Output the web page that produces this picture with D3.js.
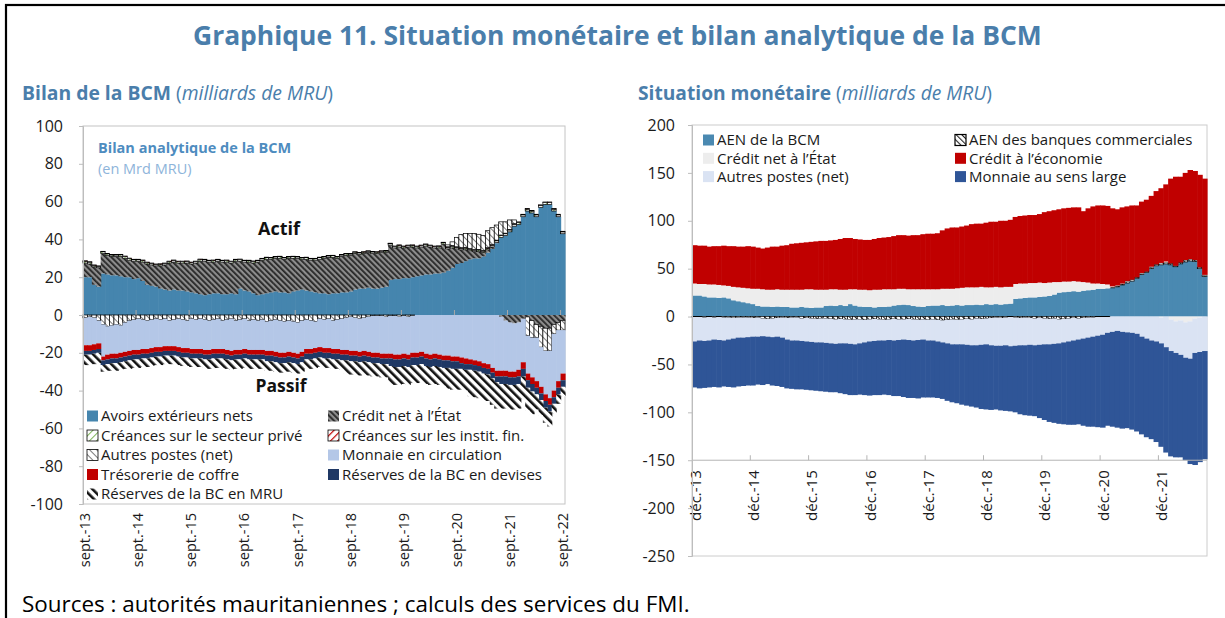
<!DOCTYPE html>
<html>
<head>
<meta charset="utf-8">
<script src="https://cdn.jsdelivr.net/npm/d3@7"></script>
<style>
  body { margin: 0; background: #fff; }
  svg text { font-family: "Open Sans", "Noto Sans", sans-serif; }
</style>
</head>
<body>
<svg id="chart" width="1225" height="618"></svg>
<script>
// ---- left chart: Bilan de la BCM, monthly sept.-13 .. sept.-22 (109 months)
const monthsL = d3.timeMonths(new Date(2013, 8, 1), new Date(2022, 9, 1));
const ticksL = ['sept.-13', 'sept.-14', 'sept.-15', 'sept.-16', 'sept.-17', 'sept.-18', 'sept.-19', 'sept.-20', 'sept.-21', 'sept.-22'];

const avoirsExt = [
  20, 20, 16, 15,
  22, 21.5, 21, 21, 20.5, 20, 20, 19, 19.5, 18, 16, 15.5,
  15, 14, 13.5, 13, 13.5, 13, 13, 12.5, 12, 11.5, 11, 10.5,
  11, 11.5, 11.5, 11, 11, 11.5, 11, 14, 13, 12.5, 11.5, 10.5,
  11, 11.5, 12, 12.5, 12, 12, 11.5, 12.5, 13, 13.5, 13, 12.5,
  12, 11.5, 11.5, 11, 11.5, 11.5, 12, 12, 12.5, 13.5, 14, 14,
  14.5, 14, 14, 14.5, 15, 18.5, 19, 19, 19.5, 19.5, 20, 20.5,
  21, 21.5, 21.5, 22, 22, 22.5, 23.5, 25, 27, 27.5, 28.5, 29.5,
  30, 30, 31, 33, 35, 38, 41, 42, 44, 47, 48, 52,
  55, 54, 52, 57, 58.5, 58.5, 55, 52, 43];
const creditEtatL = [
  7.5, 7, 9.5, 10,
  10.5, 10, 10, 10, 10.5, 10, 9, 9.5, 9, 10, 11, 11,
  11, 12, 13, 14.5, 14.5, 14.5, 14.5, 15, 15, 16, 17.5, 18,
  17, 16.5, 17, 17, 17, 16, 17.5, 14.5, 15, 15.5, 16, 17.5,
  18, 18, 17.5, 17.5, 18, 17.5, 18.5, 17.5, 17, 16, 16.5, 16.5,
  17, 18, 18.5, 19.5, 19, 18.5, 19, 19.5, 19, 19, 18, 18.5,
  18.5, 18.5, 18.5, 18.5, 18, 18.5, 16.5, 17, 16, 16.5, 16, 15,
  15, 15, 14.5, 13.5, 13.5, 15, 11.5, 10.5, 8, 7, 6, 4.5,
  3.5, 3.5, 2, 1.5, 1, 0.5, -1, -3, -4, -4.5, -4, -2,
  -1, -3, -5, -6, -7, -7, -5, -4, -3];
const creancesPrive = [
  1, 1, 0.8, 0.8,
  1, 0.9, 0.8, 0.8, 0.9, 1, 0.9, 0.8, 0.8, 0.9, 0.8, 0.8,
  0.8, 0.9, 0.8, 0.8, 0.9, 0.8, 0.8, 0.9, 0.8, 0.8, 0.9, 0.8,
  0.8, 0.9, 0.8, 0.8, 0.9, 0.8, 0.8, 0.9, 0.8, 0.8, 0.9, 0.8,
  0.8, 0.9, 0.8, 0.8, 0.9, 0.8, 0.8, 0.9, 0.8, 0.8, 0.9, 0.8,
  0.8, 0.9, 0.8, 0.8, 0.9, 0.8, 0.8, 0.9, 0.8, 0.8, 0.9, 0.8,
  0.8, 0.9, 0.8, 0.8, 0.9, 0.8, 0.8, 0.9, 0.8, 0.8, 0.9, 0.8,
  0.8, 0.9, 0.8, 0.8, 0.9, 0.8, 0.8, 0.9, 0.8, 0.8, 0.9, 0.8,
  0.8, 0.9, 0.8, 0.8, 0.9, 0.8, 1, 1, 1, 1, 1, 1,
  1, 1, 1, 1, 1, 1, 1, 1, 1];
const creancesInstit = [
  0.2, 0.2, 0.2, 0.2,
  0.2, 0.2, 0.2, 0.2, 0.2, 0.2, 0.2, 0.2, 0.2, 0.2, 0.2, 0.2,
  0.2, 0.2, 0.2, 0.2, 0.2, 0.2, 0.2, 0.2, 0.2, 0.2, 0.2, 0.2,
  0.2, 0.2, 0.2, 0.2, 0.2, 0.2, 0.2, 0.2, 0.2, 0.2, 0.2, 0.2,
  0.2, 0.2, 0.2, 0.2, 0.2, 0.2, 0.2, 0.2, 0.2, 0.2, 0.2, 0.2,
  0.2, 0.2, 0.2, 0.2, 0.2, 0.2, 0.2, 0.2, 0.2, 0.2, 0.2, 0.2,
  0.2, 0.2, 0.2, 0.2, 0.2, 0.2, 0.2, 0.2, 0.2, 0.2, 0.2, 0.2,
  0.2, 0.2, 0.2, 0.2, 0.2, 0.2, 0.3, 0.3, 0.3, 0.3, 0.3, 0.3,
  0.3, 0.3, 0.3, 0.3, 0.3, 0.3, 0.3, 0.3, 0.3, 0.3, 0.3, 0.3,
  0.3, 0.3, 0.3, 0.3, 0.3, 0.3, 0.3, 0.3, 0.3];
const autresPostesL = [
  -1.5, -1, -1.5, -3,
  -5, -6, -5.5, -5, -5.5, -4, -3, -2.5, -2, -2.5, -3, -2.5,
  -2, -2.5, -2, -3, -2.5, -2, -2.5, -3, -2, -2.5, -2, -2.5,
  -3, -2.5, -2, -3, -2.5, -2, -3, -2.5, -2, -3, -2.5, -3,
  -2.5, -3.5, -3, -2.5, -3, -3.5, -3, -3.5, -4, -3, -2.5, -3,
  -3.5, -2, -2.5, -2, -3, -2.5, -2, -1.5, -1, -1.5, -2, -1.5,
  -1, -0.5, -0.5, -0.5, -1, -0.5, -0.5, -1, -0.5, -1, -0.5, 0,
  0, 0, 0, 0, 0, 0, 1, 2, 5, 7, 7.5, 8,
  8.5, 8, 8, 9, 9, 8, 7, 6, 5, 2, 0, 0,
  -10, -9, -7, -11, -12, -12, -5, -4, -5];
const monnaieCirc = [
  -14.5, -15, -14, -12,
  -17, -15, -15, -15.5, -14.5, -15.5, -16, -16, -16.5, -15.5, -15, -15,
  -15, -14.5, -14.5, -13.5, -14, -15, -15, -14.5, -16, -15.5, -16, -16,
  -15.5, -15.5, -16, -15, -16, -17, -15.5, -16, -16, -15.5, -16, -15.5,
  -16, -15.5, -16, -17, -17, -16.5, -16.5, -16.5, -16.5, -16.5, -15.5, -15,
  -14, -15, -15, -15.5, -15, -15.5, -16.5, -17, -18, -17.5, -17.5, -17.5,
  -18.5, -19.5, -19.5, -20, -19.5, -20, -20.5, -20, -20, -20, -19.5, -20,
  -19.5, -20.5, -21, -20.5, -21, -21.5, -21.5, -22, -22, -22.5, -23, -23.5,
  -24, -24.5, -25.5, -26, -28, -29.5, -28.5, -26.5, -26, -25.5, -25, -23,
  -20, -21, -23, -21, -23, -25, -30, -27, -23];
const tresorerie = [
  -3, -3, -3, -3,
  -2, -2.5, -2.5, -2.5, -2.5, -2.5, -2.5, -2.5, -2.5, -2.5, -2.5, -2.5,
  -2.5, -2.5, -2.5, -2.5, -2.5, -2.5, -2.5, -2.5, -2.5, -2.5, -2.5, -2.5,
  -2.5, -2.5, -2.5, -2.5, -2.5, -2.5, -2.5, -2.5, -2.5, -2.5, -2.5, -2.5,
  -2.5, -2.5, -2.5, -2.5, -2.5, -2.5, -2.5, -2.5, -2.5, -2.5, -2.5, -2.5,
  -2.5, -2.5, -2.5, -2.5, -2.5, -2.5, -2.5, -2.5, -2.5, -2.5, -2.5, -2.5,
  -2.5, -2.5, -2.5, -2.5, -2.5, -2.5, -2.5, -2.5, -2.5, -2.5, -2.5, -2.5,
  -2.5, -2.5, -2.5, -2.5, -2.5, -2.5, -2.5, -2.5, -2.5, -3, -3, -2.5,
  -2.5, -2.5, -2.5, -2.5, -2.5, -3, -3, -3, -3, -3, -3.5, -3.5,
  -3.5, -3.5, -3.5, -3.5, -3.5, -3.5, -3.5, -3.5, -3.5];
const reservesDevises = [
  -2, -2, -2, -2,
  -2.5, -2.5, -2.5, -2.5, -2.5, -2.5, -2.5, -2.5, -2.5, -2.5, -2.5, -2.5,
  -2.5, -2.5, -2.5, -2.5, -2.5, -2.5, -2.5, -2.5, -2.5, -2.5, -2.5, -2.5,
  -2.5, -2.5, -2.5, -2.5, -2.5, -2.5, -2.5, -2.5, -2.5, -2.5, -2.5, -2.5,
  -2.5, -3, -3, -3, -3, -3, -3, -3, -3, -3, -3, -3,
  -3, -3, -3, -3, -3, -3, -3, -3, -3, -3, -3, -3,
  -3, -3, -3, -3, -3, -4, -4, -4, -4, -4, -4, -4,
  -4, -4, -4, -4, -4, -4, -4, -4, -4, -3, -3, -3,
  -3, -3, -3, -3, -3, -3, -4, -4, -4, -4, -4, -4,
  -4, -4, -3.5, -3.5, -3.5, -3.5, -3.5, -3.5, -3.5];
const reservesMru = [
  -5.5, -5.5, -5.5, -5.5,
  -3.5, -3.5, -4, -4, -4, -4, -4.5, -4.5, -4.5, -4.5, -4.5, -4.5,
  -4.5, -4.5, -4.5, -4.5, -4.5, -4.5, -4.5, -4.5, -4.5, -4.5, -4.5, -4.5,
  -5, -5, -5, -5, -5, -5, -5, -5, -5, -5, -5, -5,
  -5, -5, -5, -5, -5, -5, -5, -5, -5, -5, -5, -5,
  -5, -5, -5, -5, -5, -5, -5, -7, -7, -7, -7, -7,
  -7, -7, -7, -7, -7, -9.5, -9.5, -9.5, -9.5, -9.5, -9.5, -9.5,
  -9.5, -9.5, -9.5, -9.5, -9.5, -9.5, -11, -11, -11, -11, -11, -14,
  -14, -14, -14, -14, -14, -14, -13, -13, -13, -13, -13, -12,
  -12, -12, -8, -8, -8, -8, -5, -5, -5];

// ---- right chart: Situation monétaire, monthly déc.-13 .. sept.-22 (106 months)
const monthsR = d3.timeMonths(new Date(2013, 11, 1), new Date(2022, 9, 1));
const ticksR = ['déc.-13', 'déc.-14', 'déc.-15', 'déc.-16', 'déc.-17', 'déc.-18', 'déc.-19', 'déc.-20', 'déc.-21'];

const aenBcm = [
  22,
  22, 21, 20, 20, 19.5, 20, 19, 17, 16, 15, 14, 13,
  11, 10.5, 10.5, 10, 10.5, 10, 10, 9.5, 9.5, 10, 9.5, 9,
  9.5, 9.5, 11, 11.5, 11, 12, 11, 13, 11.5, 10.5, 10, 10,
  9.5, 10, 10, 10.5, 11.5, 12, 12.5, 12, 11, 10.5, 10, 11,
  11.5, 11.5, 12, 11, 11.5, 12, 11.5, 12, 12, 12.5, 12, 13,
  12.5, 13, 12.5, 13, 13.5, 18.5, 19, 19.5, 20, 20, 20.5, 21,
  21.5, 23, 25, 25.5, 26, 26.5, 26, 27, 27.5, 28, 29, 29,
  29.5, 30, 31, 33, 35, 37, 40, 44, 46, 50, 53, 54,
  55, 54, 52, 55, 57, 58, 57.5, 50, 42];
const aenBanques = [
  -0.5,
  -0.5, -1, -0.5, -1, -0.5, -1, -1, -1.5, -1, -1, -1, -1.5,
  -1, -2, -2.5, -2, -1.5, -1, -1.5, -1, -1, -2, -1.5, -2,
  -2.5, -2, -2, -2.5, -3, -2.5, -3, -3.5, -3, -3, -3.5, -3,
  -2.5, -3, -3.5, -3, -2.5, -3, -3, -2.5, -3, -3.5, -3, -3.5,
  -3, -3.5, -4, -3.5, -3, -3.5, -3, -2.5, -3, -2, -2.5, -2,
  -1.5, -1, -1.5, -1, -0.5, -1, -1.5, -1, -1.5, -2, -1.5, -2,
  -2.5, -2, -3, -2.5, -2, -1.5, -2, -1.5, -1, -1, -0.5, -0.5,
  -0.5, 0.5, 1, 1, 1.5, 1.5, 1, 1, 1, 1.5, 1.5, 2,
  1.5, 1.5, 1, 1.5, 2, 2, 1.5, 1.5, 1];
const creditEtatR = [
  12.5,
  12, 13, 13.5, 13.5, 13.5, 12.5, 13, 14, 14.5, 15, 15.5, 16,
  18, 18, 17.5, 18, 18, 18, 18, 18.5, 18.5, 18, 19, 19.5,
  18.5, 18.5, 17, 17, 17.5, 16, 17, 15.5, 17, 17.5, 18, 17.5,
  18.5, 18, 18.5, 18, 17, 17, 16.5, 16.5, 17.5, 18, 18.5, 17.5,
  17, 17, 17, 18, 17.5, 17.5, 18.5, 18.5, 18.5, 18, 19, 17.5,
  18, 18, 18, 18, 17.5, 15.5, 15.5, 15, 15, 15, 15, 14,
  14, 13, 11, 11, 10.5, 10.5, 10.5, 9, 8, 6.5, 5.5, 5,
  4, 1, 0.5, 0.5, 0.5, 0, 0, 0.5, 0, 0.5, 0, -1,
  1, -3, -5, -4, -6, -5, -2, -1, 0.5];
const creditEco = [
  40,
  40, 40, 39.5, 40, 40.5, 41.5, 41.5, 42.5, 42.5, 43, 44, 44,
  43, 42.5, 44, 45, 44.5, 46, 46.5, 48, 48.5, 49, 49, 49.5,
  50.5, 51, 51, 51, 51.5, 53, 54, 53.5, 52.5, 52.5, 52, 52.5,
  53, 54, 54, 54.5, 55.5, 56, 56, 56, 56.5, 56.5, 57.5, 58,
  58, 58.5, 61, 63, 64, 63.5, 64, 64.5, 66, 66.5, 66, 67.5,
  68.5, 68, 69.5, 69, 70, 70, 70.5, 71, 71, 71, 71.5, 74,
  74.5, 75, 76, 76.5, 77, 77, 77.5, 74, 77.5, 80.5, 81.5, 82,
  82, 81.5, 79.5, 79.5, 78, 77.5, 75, 74.5, 75, 74, 76.5, 78,
  80.5, 88.5, 93, 89.5, 91, 93, 93, 96.5, 100.5];
const autresPostesR = [
  -25.5,
  -24.5, -24.5, -24.5, -23, -24, -24, -23, -21.5, -21, -21, -20.5, -19.5,
  -20, -18.5, -18.5, -19.5, -19.5, -21, -22.5, -24, -24, -23.5, -24.5, -24.5,
  -24.5, -25, -25.5, -25.5, -25.5, -25.5, -25, -25, -26, -25, -23.5, -23,
  -23, -22, -21.5, -21.5, -22.5, -21.5, -21, -22, -22, -21, -21, -21.5,
  -22, -22.5, -23, -24.5, -26, -25.5, -26, -27, -27, -28, -27, -27,
  -28.5, -29.5, -29, -29, -30.5, -29.5, -28.5, -29, -28, -28, -28, -27,
  -26.5, -26.5, -25, -24.5, -24, -23.5, -22, -21.5, -21, -20, -19.5, -18.5,
  -16.5, -16, -15, -16, -16.5, -17, -18, -21, -23, -25, -26, -27,
  -32, -33, -33, -36, -37, -39, -36, -36, -36];
const monnaieLarge = [
  -48,
  -50, -49, -49, -49.5, -49.5, -48, -49.5, -51, -51, -50.5, -50.5, -51,
  -50, -51, -49.5, -50.5, -51.5, -51.5, -51, -50.5, -51, -50.5, -50.5, -50.5,
  -50.5, -51, -51, -51, -50.5, -52, -53, -53.5, -53, -53.5, -55, -56.5,
  -56.5, -57, -56.5, -57.5, -58, -58.5, -60, -60.5, -60, -61, -60.5, -59.5,
  -59.5, -59, -59, -60, -60.5, -61.5, -63, -63.5, -64, -65, -67, -68,
  -67.5, -66.5, -67.5, -68.5, -68, -69.5, -72, -73, -74, -74, -76.5, -79,
  -81, -82.5, -84, -85.5, -87, -88, -88.5, -91, -93, -94, -95.5, -97,
  -97, -99, -101, -101, -100, -101, -102, -102, -103, -103, -105, -108,
  -110, -110, -109, -107, -107, -110, -117, -115, -113];

// ---- page
const svg = d3.select('#chart');
const defs = svg.append('defs');
const blue = '#4A7EAB';

function stripes(id, bg, fg, size, lw, angle) {
  const p = defs.append('pattern').attr('id', id)
    .attr('patternUnits', 'userSpaceOnUse')
    .attr('width', size).attr('height', size)
    .attr('patternTransform', `rotate(${angle})`);
  p.append('rect').attr('width', size).attr('height', size).attr('fill', bg);
  p.append('rect').attr('width', lw).attr('height', size).attr('fill', fg);
}
stripes('hEtat', '#8c8c8c', '#262626', 4, 1.8, -45);
stripes('hMru', '#ffffff', '#111111', 6, 2.6, -45);
stripes('hPrive', '#ffffff', '#70AD47', 5, 0.9, 45);
stripes('hInstit', '#ffffff', '#C00000', 5, 1.2, 45);
stripes('hAutres', '#ffffff', '#444444', 5, 0.7, -45);
stripes('hBanques', '#ffffff', '#222222', 4, 1.1, -45);

// frame
svg.append('rect').attr('x', 6).attr('y', 5).attr('width', 1230).attr('height', 700)
  .attr('fill', 'none').attr('stroke', '#000').attr('stroke-width', 2.2);

function fitWidth(sel, w) {
  const cur = sel.node().getBBox().width;
  const fs = parseFloat(sel.attr('font-size'));
  if (cur > 0) sel.attr('font-size', (fs * w / cur).toFixed(2));
}

const title = svg.append('text').attr('x', 193).attr('y', 45)
  .attr('font-size', 24).attr('font-weight', 700).attr('fill', blue)
  .text('Graphique 11. Situation monétaire et bilan analytique de la BCM');
fitWidth(title, 849);

function subtitle(x, bold, w) {
  const t = svg.append('text').attr('x', x).attr('y', 100).attr('font-size', 21).attr('fill', blue);
  t.append('tspan').attr('font-weight', 700).text(bold);
  t.append('tspan').text(' (');
  t.append('tspan').attr('font-style', 'italic').text('milliards de MRU');
  t.append('tspan').text(')');
  fitWidth(t, w);
}
subtitle(22, 'Bilan de la BCM', 311);
subtitle(638, 'Situation monétaire', 354);

const src = svg.append('text').attr('x', 22).attr('y', 612).attr('font-size', 20).attr('fill', '#000')
  .text('Sources : autorités mauritaniennes ; calculs des services du FMI.');
fitWidth(src, 668);

// ================= LEFT CHART =================
const L = { x0: 83, x1: 565, y0: 126, y1: 504 };
const xL = d3.scaleBand().domain(d3.range(monthsL.length)).range([L.x0, L.x1]).padding(0);
const yL = d3.scaleLinear().domain([-100, 100]).range([L.y1, L.y0]);

const seriesL = [
  { key: 'aen', name: 'Avoirs extérieurs nets', values: avoirsExt, fill: '#4585AE' },
  { key: 'etat', name: 'Crédit net à l’État', values: creditEtatL, fill: 'url(#hEtat)' },
  { key: 'prive', name: 'Créances sur le secteur privé', values: creancesPrive, fill: 'url(#hPrive)', stroke: '#000' },
  { key: 'instit', name: 'Créances sur les instit. fin.', values: creancesInstit, fill: 'url(#hInstit)', stroke: '#000' },
  { key: 'autres', name: 'Autres postes (net)', values: autresPostesL, fill: 'url(#hAutres)', stroke: '#000' },
  { key: 'monnaie', name: 'Monnaie en circulation', values: monnaieCirc, fill: '#B4C7E7' },
  { key: 'treso', name: 'Trésorerie de coffre', values: tresorerie, fill: '#C00000' },
  { key: 'devises', name: 'Réserves de la BC en devises', values: reservesDevises, fill: '#1F3864' },
  { key: 'mru', name: 'Réserves de la BC en MRU', values: reservesMru, fill: 'url(#hMru)' }
];

function drawBars(g, series, months, x, y) {
  const rows = months.map((m, i) => {
    const r = { i };
    series.forEach(s => { r[s.key] = s.values[i]; });
    return r;
  });
  const stacked = d3.stack().keys(series.map(s => s.key)).offset(d3.stackOffsetDiverging)(rows);
  const byKey = Object.fromEntries(series.map(s => [s.key, s]));
  g.selectAll('g.series').data(stacked).join('g')
    .attr('class', 'series')
    .attr('fill', d => byKey[d.key].fill)
    .attr('stroke', d => byKey[d.key].stroke || null)
    .attr('stroke-width', d => byKey[d.key].stroke ? 0.7 : null)
    .selectAll('rect')
    .data(d => d.filter(v => v[1] !== v[0]).map(v => ({ v, outlined: !!byKey[d.key].stroke })))
    .join('rect')
    .attr('x', d => x(d.v.data.i))
    .attr('width', d => x.bandwidth() + (d.outlined ? 0 : 0.6))
    .attr('y', d => y(d.v[1]))
    .attr('height', d => Math.max(0.5, y(d.v[0]) - y(d.v[1])));
}

const gL = svg.append('g');
gL.append('rect').attr('x', L.x0).attr('y', L.y0).attr('width', L.x1 - L.x0).attr('height', L.y1 - L.y0)
  .attr('fill', '#fff').attr('stroke', '#C4C4C4');
drawBars(gL.append('g'), seriesL, monthsL, xL, yL);

// category ticks at the zero line
const tickIdxL = ticksL.map((t, k) => k * 12);
gL.append('g').selectAll('line').data(tickIdxL.slice(1)).join('line')
  .attr('x1', d => xL(d)).attr('x2', d => xL(d))
  .attr('y1', yL(0) - 5).attr('y2', yL(0))
  .attr('stroke', '#A8A8A8');
gL.append('g').selectAll('text').data(ticksL).join('text')
  .attr('transform', (d, k) => `translate(${xL(tickIdxL[k]) + xL.bandwidth() / 2},${L.y1 + 9}) rotate(-90)`)
  .attr('text-anchor', 'end').attr('dy', '0.35em')
  .attr('font-size', 14.5).attr('fill', '#1a1a1a').text(d => d);

const axL = gL.append('g').attr('transform', `translate(${L.x0},0)`)
  .call(d3.axisLeft(yL).tickValues(d3.range(-100, 101, 20)).tickFormat(d => String(d)).tickSize(4).tickPadding(16));
axL.selectAll('path, line').attr('stroke', '#BDBDBD');
axL.selectAll('text').attr('font-size', 16).attr('fill', '#1a1a1a').attr('font-family', '"Open Sans", sans-serif');

gL.append('text').attr('x', 98).attr('y', 153).attr('font-size', 14.5).attr('font-weight', 700)
  .attr('fill', '#4E8CBF').text('Bilan analytique de la BCM');
gL.append('text').attr('x', 98).attr('y', 174).attr('font-size', 14.5)
  .attr('fill', '#8EB4DA').text('(en Mrd MRU)');
gL.append('text').attr('x', 279).attr('y', 235).attr('text-anchor', 'middle')
  .attr('font-size', 18).attr('font-weight', 700).attr('fill', '#111').text('Actif');
gL.append('text').attr('x', 281).attr('y', 392).attr('text-anchor', 'middle')
  .attr('font-size', 17.5).attr('font-weight', 700).attr('fill', '#111').text('Passif');

// legend (two columns)
const legOrderL = ['aen', 'etat', 'prive', 'instit', 'autres', 'monnaie', 'treso', 'devises', 'mru'];
const legL = gL.append('g').selectAll('g').data(legOrderL.map(k => seriesL.find(s => s.key === k))).join('g')
  .attr('transform', (d, k) => `translate(${k % 2 ? 328 : 87},${416 + Math.floor(k / 2) * 19.5})`);
legL.append('rect').attr('x', 0).attr('y', -5.5).attr('width', 11).attr('height', 11)
  .attr('fill', d => d.fill).attr('stroke', d => d.stroke || null).attr('stroke-width', 0.8);
legL.append('text').attr('x', 14).attr('dy', '0.35em').attr('font-size', 15).attr('fill', '#1a1a1a')
  .text(d => d.name);

// ================= RIGHT CHART =================
const R = { x0: 692, x1: 1207, y0: 125, y1: 556 };
const xR = d3.scaleBand().domain(d3.range(monthsR.length)).range([R.x0, R.x1]).padding(0);
const yR = d3.scaleLinear().domain([-250, 200]).range([R.y1, R.y0]);

const seriesR = [
  { key: 'aenBcm', name: 'AEN de la BCM', values: aenBcm, fill: '#4A89B1' },
  { key: 'aenBanq', name: 'AEN des banques commerciales', values: aenBanques, fill: 'url(#hBanques)', stroke: '#000' },
  { key: 'etat', name: 'Crédit net à l’État', values: creditEtatR, fill: '#EDEDED' },
  { key: 'eco', name: 'Crédit à l’économie', values: creditEco, fill: '#C00000' },
  { key: 'autres', name: 'Autres postes (net)', values: autresPostesR, fill: '#DAE3F3' },
  { key: 'monnaie', name: 'Monnaie au sens large', values: monnaieLarge, fill: '#2F5597' }
];

const gR = svg.append('g');
gR.append('rect').attr('x', R.x0).attr('y', R.y0).attr('width', R.x1 - R.x0).attr('height', R.y1 - R.y0)
  .attr('fill', '#fff').attr('stroke', '#CCCCCC');
drawBars(gR.append('g'), seriesR, monthsR, xR, yR);

const tickIdxR = ticksR.map((t, k) => k * 12);
const axisY = yR(-150);
gR.append('line').attr('x1', R.x0).attr('x2', R.x1).attr('y1', axisY).attr('y2', axisY).attr('stroke', '#B5B5B5');
gR.append('g').selectAll('line').data(tickIdxR.slice(1)).join('line')
  .attr('x1', d => xR(d)).attr('x2', d => xR(d))
  .attr('y1', axisY - 5).attr('y2', axisY)
  .attr('stroke', '#B5B5B5');
gR.append('g').selectAll('text').data(ticksR).join('text')
  .attr('transform', (d, k) => `translate(${xR(tickIdxR[k]) + xR.bandwidth() / 2 + 1},${axisY + 10}) rotate(-90)`)
  .attr('text-anchor', 'end').attr('dy', '0.35em')
  .attr('font-size', 15).attr('fill', '#1a1a1a').text(d => d);

const axR = gR.append('g').attr('transform', `translate(${R.x0},0)`)
  .call(d3.axisLeft(yR).tickValues(d3.range(-250, 201, 50)).tickFormat(d => String(d)).tickSize(4).tickPadding(13));
axR.selectAll('path, line').attr('stroke', '#BDBDBD');
axR.selectAll('text').attr('font-size', 16).attr('fill', '#1a1a1a').attr('font-family', '"Open Sans", sans-serif');

const legOrderR = ['aenBcm', 'aenBanq', 'etat', 'eco', 'autres', 'monnaie'];
const legR = gR.append('g').selectAll('g').data(legOrderR.map(k => seriesR.find(s => s.key === k))).join('g')
  .attr('transform', (d, k) => `translate(${k % 2 ? 955 : 703},${140 + Math.floor(k / 2) * 18.3})`);
legR.append('rect').attr('x', 0).attr('y', -5.5).attr('width', 11).attr('height', 11)
  .attr('fill', d => d.fill).attr('stroke', d => d.stroke || null).attr('stroke-width', 1.2);
legR.append('text').attr('x', 14).attr('dy', '0.35em').attr('font-size', 15).attr('fill', '#1a1a1a')
  .text(d => d.name);
</script>
</body>
</html>
